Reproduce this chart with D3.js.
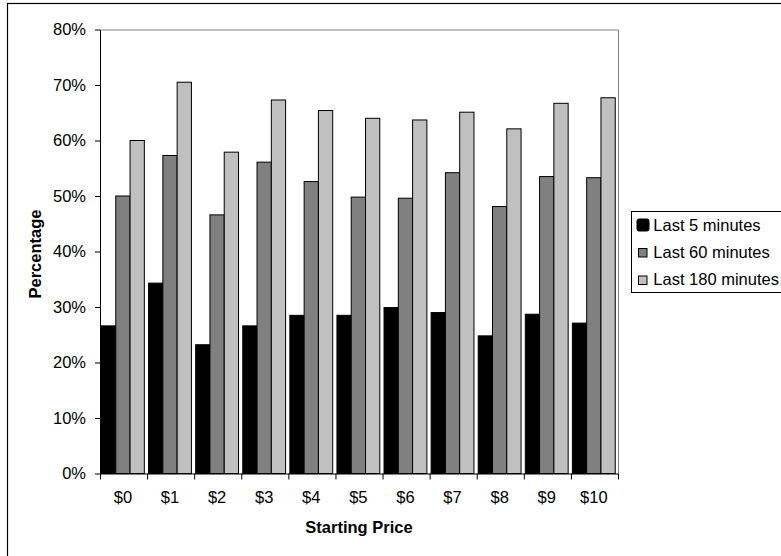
<!DOCTYPE html>
<html>
<head>
<meta charset="utf-8">
<script src="https://cdn.jsdelivr.net/npm/d3@7"></script>
<style>
  html, body { margin: 0; padding: 0; background: #fff; }
  svg { display: block; }
  text { font-family: "Liberation Sans", Arial, sans-serif; }
</style>
</head>
<body>
<svg id="chart" width="781" height="556"></svg>
<script>
const categories = ["$0", "$1", "$2", "$3", "$4", "$5", "$6", "$7", "$8", "$9", "$10"];
const seriesNames = ["Last 5 minutes", "Last 60 minutes", "Last 180 minutes"];
const last5 = [26.6, 34.3, 23.2, 26.6, 28.5, 28.5, 29.9, 29.0, 24.8, 28.7, 27.1];
const last60 = [50.0, 57.3, 46.6, 56.1, 52.6, 49.8, 49.6, 54.2, 48.1, 53.5, 53.3];
const last180 = [60.0, 70.5, 57.9, 67.3, 65.4, 64.0, 63.7, 65.1, 62.1, 66.7, 67.7];
const yTicks = [0, 10, 20, 30, 40, 50, 60, 70, 80];
const colors = ["#000000", "#808080", "#C0C0C0"];

(function () {
const FS = 16.5;
const seriesValues = [last5, last60, last180];
const svg = d3.select("#chart");

// outer chart border (top & left visible)
svg.append("rect").attr("x", 7.5).attr("y", 3.5).attr("width", 800).attr("height", 600)
  .attr("fill", "none").attr("stroke", "#000").attr("stroke-width", 1.2);

const pL = 100, pR = 618, pT = 29.5, pB = 473.5;

const x0 = d3.scaleBand().domain(categories).range([pL, pR])
  .paddingInner(0.09).paddingOuter(0.045).align(0.35);
const x1 = d3.scaleBand().domain(d3.range(seriesNames.length)).range([0, x0.bandwidth()]).padding(0);
const y = d3.scaleLinear().domain([0, 80]).range([pB, pT]);
const xEdge = d3.scaleLinear().domain([0, categories.length]).range([pL, pR]);

// plot frame top/right (gray)
svg.append("path")
  .attr("d", `M${pL},${pT + 0.5}H${pR + 0.5}V${pB}`)
  .attr("fill", "none").attr("stroke", "#808080").attr("stroke-width", 1);

// bars
const groups = svg.append("g").selectAll("g").data(categories).join("g")
  .attr("transform", c => `translate(${x0(c)},0)`);
groups.selectAll("rect")
  .data((c, ci) => seriesValues.map((s, si) => ({ si, v: s[ci] })))
  .join("rect")
  .attr("x", d => x1(d.si))
  .attr("y", d => y(d.v))
  .attr("width", x1.bandwidth())
  .attr("height", d => y(0) - y(d.v))
  .attr("fill", d => colors[d.si])
  .attr("stroke", "#000").attr("stroke-width", 1);

// y axis
const yAxis = svg.append("g").attr("transform", `translate(${pL},0)`)
  .call(d3.axisLeft(y).tickValues(yTicks).tickFormat(d => d + "%").tickSize(5).tickPadding(9).tickSizeOuter(0));
yAxis.select(".domain").attr("stroke", "#000");
yAxis.selectAll("text").attr("font-size", FS).attr("fill", "#000")
  .attr("font-family", "'Liberation Sans', Arial, sans-serif");

// x axis line + boundary ticks
const xTickAxis = svg.append("g").attr("transform", `translate(0,${pB})`)
  .call(d3.axisBottom(xEdge).tickValues(d3.range(categories.length + 1)).tickFormat("").tickSize(6).tickSizeOuter(0));
xTickAxis.select(".domain").attr("stroke", "#000");

// x category labels
const xLab = svg.append("g").attr("transform", `translate(0,${pB})`)
  .call(d3.axisBottom(x0).tickSize(0).tickPadding(18));
xLab.select(".domain").remove();
xLab.selectAll("text").attr("font-size", FS).attr("fill", "#000")
  .attr("font-family", "'Liberation Sans', Arial, sans-serif");

// axis titles
svg.append("text").attr("transform", "translate(40.5,254) rotate(-90)")
  .attr("text-anchor", "middle").attr("font-size", FS).attr("font-weight", "bold").text("Percentage");
svg.append("text").attr("x", 359).attr("y", 533.3)
  .attr("text-anchor", "middle").attr("font-size", FS).attr("font-weight", "bold").text("Starting Price");

// legend
svg.append("rect").attr("x", 631.5).attr("y", 211.5).attr("width", 200).attr("height", 81)
  .attr("fill", "#fff").attr("stroke", "#000").attr("stroke-width", 1);
const legendRows = [
  { name: seriesNames[0], c: colors[0], sx: 637, sy: 219, s: 12, rx: 2 },
  { name: seriesNames[1], c: colors[1], sx: 638.5, sy: 248.5, s: 8.5, rx: 0 },
  { name: seriesNames[2], c: colors[2], sx: 638.5, sy: 276, s: 8.5, rx: 0 }
];
const baselines = [230.7, 257.7, 285];
const lg = svg.append("g").selectAll("g").data(legendRows).join("g");
lg.append("rect").attr("x", d => d.sx).attr("y", d => d.sy).attr("width", d => d.s).attr("height", d => d.s)
  .attr("rx", d => d.rx).attr("fill", d => d.c).attr("stroke", "#000").attr("stroke-width", 1);
lg.append("text").attr("x", 653.3).attr("y", (d, i) => baselines[i]).attr("font-size", FS).text(d => d.name);
})();
</script>
</body>
</html>
